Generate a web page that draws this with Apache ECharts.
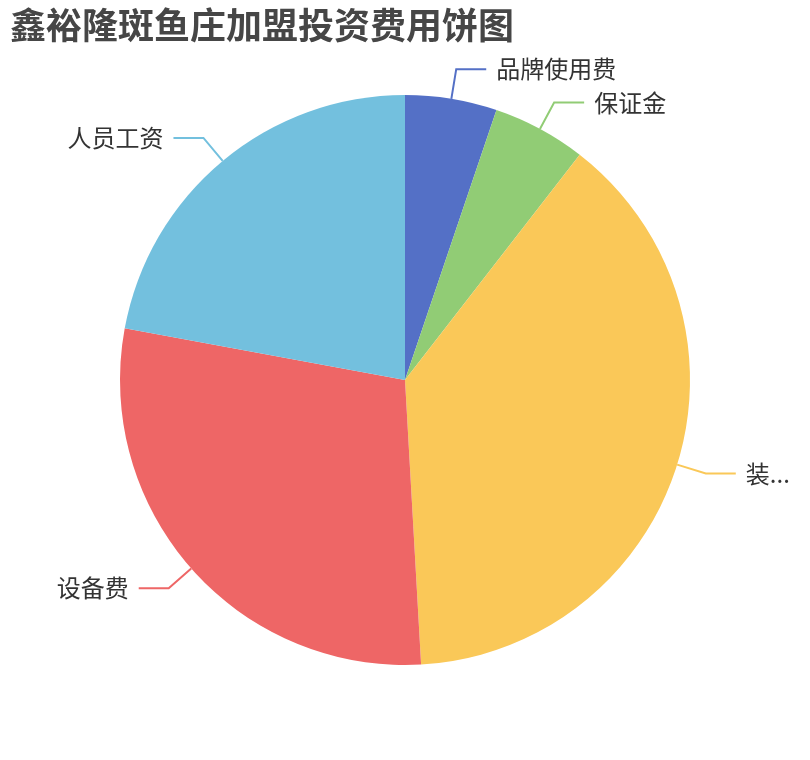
<!DOCTYPE html>
<html>
<head>
<meta charset="utf-8">
<script src="https://cdn.jsdelivr.net/npm/echarts@6/dist/echarts.min.js"></script>
<style>
html,body{margin:0;padding:0;background:#fff;}
#main{width:810px;height:760px;}
</style>
</head>
<body>
<div id="main"></div>
<script>
const titleText = '鑫裕隆斑鱼庄加盟投资费用饼图';
const categories = ['品牌使用费', '保证金', '装修费', '设备费', '人员工资'];
const values = [5.2, 5.3, 38.6, 28.8, 22.1];
const colors = ['#5470c6', '#91cc75', '#fac858', '#ee6666', '#73c0de'];

const chart = echarts.init(document.getElementById('main'));
chart.setOption({
  animation: false,
  color: colors,
  title: {
    text: titleText,
    left: 5,
    top: 2,
    textStyle: { fontSize: 36, fontWeight: 'bold', color: '#464646', fontFamily: 'Noto Sans CJK SC' }
  },
  series: [{
    type: 'pie',
    radius: [0, '75%'],
    center: ['50%', '50%'],
    startAngle: 90,
    clockwise: true,
    data: categories.map((n, i) => ({ name: n, value: values[i] })),
    itemStyle: { borderWidth: 0 },
    label: {
      show: true,
      position: 'outside',
      fontSize: 24,
      color: '#333',
      fontFamily: 'Noto Sans CJK SC',
      distanceToLabelLine: 10
    },
    labelLine: {
      show: true,
      length: 30,
      length2: 30,
      lineStyle: { width: 2 }
    }
  }]
});
</script>
</body>
</html>
